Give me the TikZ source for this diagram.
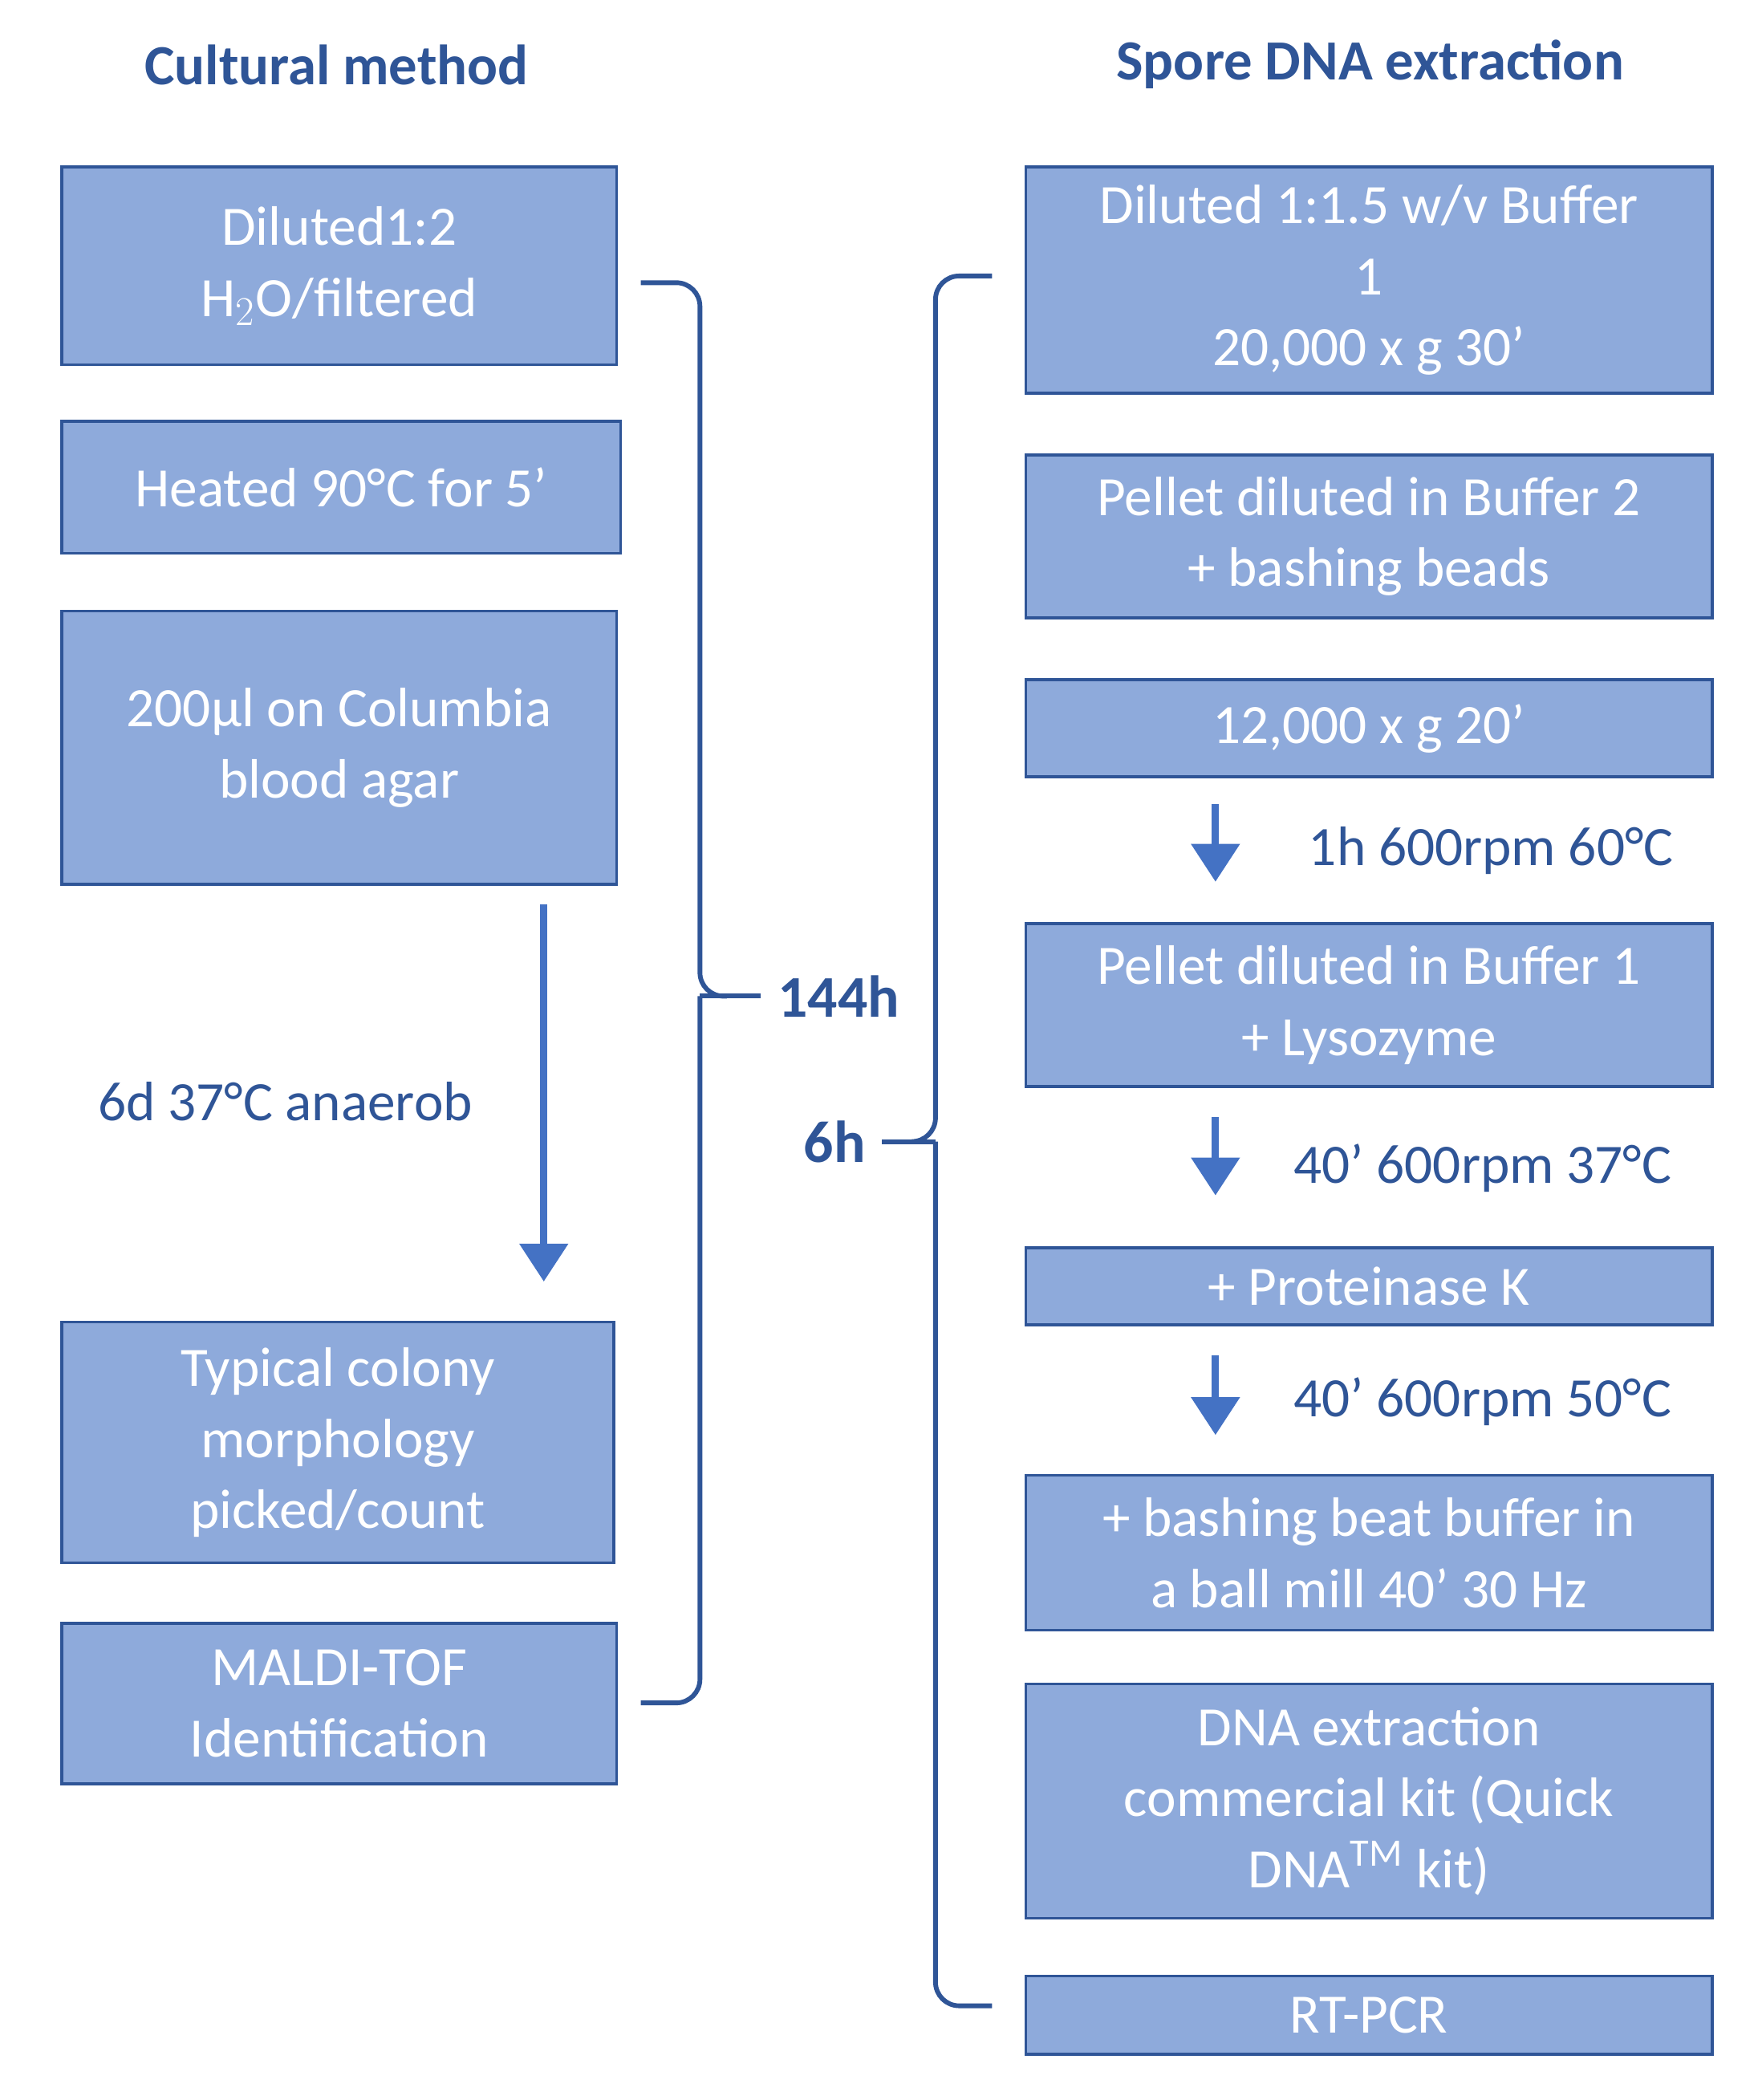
\documentclass[tikz,border=0pt]{standalone}
\usepackage{fontspec}
\setmainfont{Carlito}
\usetikzlibrary{arrows.meta}
\definecolor{bfill}{HTML}{8EAADB}
\definecolor{bdraw}{HTML}{2F5597}
\definecolor{darr}{HTML}{4472C4}
\definecolor{htext}{HTML}{2F5597}
\begin{document}
\begin{tikzpicture}[x=0.02cm,y=-0.02cm,
 box/.style={draw=bdraw,fill=bfill,line width=1.2pt,text=white,align=center,font=\fontsize{23.5}{30}\selectfont,inner sep=0pt},
 hdr/.style={text=htext,font=\fontsize{24}{28}\selectfont\bfseries},
 lbl/.style={text=htext,font=\fontsize{23.5}{28}\selectfont},
 blbl/.style={text=htext,font=\fontsize{25}{30}\selectfont\bfseries},
 arr/.style={draw=darr,line width=3pt,-{Triangle[length=16pt,width=20pt]}},
 brace/.style={draw=bdraw,line width=2pt,rounded corners=10pt}]
\useasboundingbox (0,0) rectangle (1306,1560);
\newcommand\bx[6]{\node[box,minimum width={(#3-#2)*0.02cm},minimum height={(#5-#4)*0.02cm}] (#1) at ({(#2+#3)/2},{(#4+#5)/2}) {#6};}
\node[hdr] (h1) at (250,48) {Cultural method};
\node[hdr] (h2) at (1018,48) {Spore DNA extraction};
\bx{a}{46}{458}{124}{271}{Diluted1:2\\H$_2$O/filtered}
\bx{b}{46}{461}{313}{411}{Heated 90°C for 5’}
\bx{c}{46}{458}{454}{657}{200µl on Columbia\\blood agar}
\bx{d}{46}{456}{982}{1161}{Typical colony\\morphology\\picked/count}
\bx{e}{46}{458}{1206}{1325}{MALDI-TOF\\Identification}
\coordinate (cs) at (404,672); \coordinate (ct) at (404,952);
\draw[arr] (cs) -- (ct);
\node[lbl] (l6d) at (212,818) {6d 37°C anaerob};
\bx{r1}{762}{1272}{124}{292}{Diluted 1:1.5 w/v Buffer\\1\\20,000 x g 30’}
\bx{r2}{762}{1272}{338}{459}{Pellet diluted in Buffer 2\\+ bashing beads}
\bx{r3}{762}{1272}{505}{577}{12,000 x g 20’}
\bx{r4}{762}{1272}{686}{807}{Pellet diluted in Buffer 1\\+ Lysozyme}
\bx{r5}{762}{1272}{927}{984}{+ Proteinase K}
\bx{r6}{762}{1272}{1096}{1211}{+ bashing beat buffer in\\a ball mill 40’ 30 Hz}
\bx{r7}{762}{1272}{1251}{1425}{DNA extraction\\commercial kit (Quick\\DNA\textsuperscript{TM} kit)}
\bx{r8}{762}{1272}{1468}{1526}{RT-PCR}
\coordinate (a1s) at (903,597); \coordinate (a1t) at (903,655);
\coordinate (a2s) at (903,830); \coordinate (a2t) at (903,888);
\coordinate (a3s) at (903,1007); \coordinate (a3t) at (903,1066);
\draw[arr] (a1s) -- (a1t);
\draw[arr] (a2s) -- (a2t);
\draw[arr] (a3s) -- (a3t);
\node[lbl,anchor=west] (t1) at (966,632) {1h 600rpm 60°C};
\node[lbl,anchor=west] (t2) at (955,868) {40’ 600rpm 37°C};
\node[lbl,anchor=west] (t3) at (955,1041) {40’ 600rpm 50°C};
\coordinate (b1a) at (476,210); \coordinate (b1b) at (476,1265);
\draw[brace] (b1a) -- (520,210) -- (520,740) -- (540,740);
\draw[brace] (b1b) -- (520,1265) -- (520,740);
\draw[draw=bdraw,line width=2pt] (520,740) -- (565,740);
\node[blbl] (l144) at (623,740) {144h};
\coordinate (b2a) at (737,205); \coordinate (b2b) at (737,1490);
\draw[brace] (b2a) -- (695,205) -- (695,848) -- (680,848);
\draw[brace] (b2b) -- (695,1490) -- (695,848);
\draw[draw=bdraw,line width=2pt] (695,848) -- (655,848);
\node[blbl] (l6h) at (620,848) {6h};
\end{tikzpicture}
\end{document}
